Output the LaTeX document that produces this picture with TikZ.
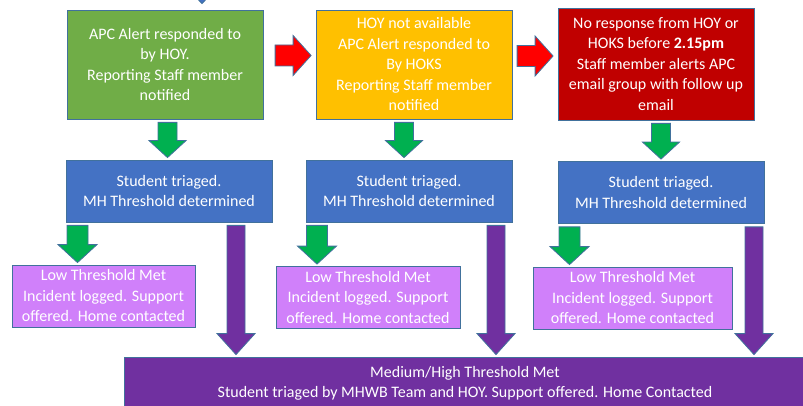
\documentclass[tikz,border=0pt]{standalone}
\usepackage{fontspec}
\setmainfont{Carlito}
\usetikzlibrary{calc}
\definecolor{boxgreen}{HTML}{70AD47}
\definecolor{boxyellow}{HTML}{FFC000}
\definecolor{boxred}{HTML}{C00000}
\definecolor{boxblue}{HTML}{4472C4}
\definecolor{lowpurple}{RGB}{208,128,250}
\definecolor{highpurple}{HTML}{7030A0}
\definecolor{arrowgreen}{HTML}{00B050}
\definecolor{arrowred}{HTML}{FF0000}
\definecolor{edgeblue}{HTML}{41719C}
\tikzset{
	box/.style={draw=edgeblue,line width=.8pt,text=white,align=center,inner sep=0pt},
	blockarrow/.style={draw=edgeblue,line width=.8pt,line join=miter},
}
% block arrow down: colour, x, from, to, half shaft, half head, head length
\newcommand\dnarrow[7]{%
	\draw[blockarrow,fill=#1] let \p1=(#3.south), \p2=(#4.north) in
	(#2pt-#5pt,\y1-3pt)--(#2pt+#5pt,\y1-3pt)--(#2pt+#5pt,\y2+2pt+#7pt)--(#2pt+#6pt,\y2+2pt+#7pt)
	--(#2pt,\y2+2pt)--(#2pt-#6pt,\y2+2pt+#7pt)--(#2pt-#5pt,\y2+2pt+#7pt)--cycle;}
% block arrow right: y, from, to
\newcommand\rtarrow[3]{%
	\draw[blockarrow,fill=arrowred] let \p1=(#2.east), \p2=(#3.west) in
	(\x2-40.5pt,-#1pt+10.5pt)--(\x2-22.5pt,-#1pt+10.5pt)--(\x2-22.5pt,-#1pt+20pt)--(\x2-4.5pt,-#1pt)
	--(\x2-22.5pt,-#1pt-20pt)--(\x2-22.5pt,-#1pt-10.5pt)--(\x2-40.5pt,-#1pt-10.5pt)--cycle;}
\begin{document}
\begin{tikzpicture}[x=1pt,y=-1pt,font=\fontsize{16}{20.5}\selectfont]
	\useasboundingbox (0,0) rectangle (803,406);
	\clip (0,0) rectangle (803,406);
	\foreach \nm/\cx/\cy/\h/\c/\t in {gA/165/64.5/109pt/boxgreen/{APC Alert responded to\\by HOY.\\Reporting Staff member\\notified},
		yB/414/64.5/109pt/boxyellow/{HOY not available\\APC Alert responded to\\By HOKS\\Reporting Staff member\\notified},
		rC/656/64/112pt/boxred/{No response from HOY or\\HOKS before \textbf{2.15pm}\\Staff member alerts APC\\email group with follow up\\email}}
		\path(\cx,\cy)node[box,fill=\c,minimum width=196pt,minimum height=\h](\nm){\t};
	\foreach \nm/\cx/\cy in {bA/169/191,bB/409/191,bC/661/192.5}
		\path(\cx,\cy)node[box,fill=boxblue,minimum width=206pt,minimum height=62pt](\nm){Student triaged.\\MH Threshold determined};
	\foreach \nm/\cx/\cy/\w in {lA/103.5/296/183pt,lB/368/297.5/184pt,lC/632.5/298/199pt}
		\path(\cx,\cy)node[box,fill=lowpurple,minimum width=\w,minimum height=62pt](\nm){Low Threshold Met\\Incident logged. Support\\offered. Home contacted};
	\path(465,383.5)node[box,fill=highpurple,minimum width=682pt,minimum height=53pt](mh){Medium/High Threshold Met\\Student triaged by MHWB Team and HOY. Support offered. Home Contacted};
	% incoming alert, cut off at the top
	\draw[blockarrow,fill=boxblue] let \p2=(gA.north) in (183pt,\y2+26pt)--(202pt,\y2+6pt)--(221pt,\y2+26pt)--cycle;
	\foreach \cx/\src/\dst in {167.5/gA/bA,404/yB/bB,661/rC/bC}\dnarrow{arrowgreen}{\cx}{\src}{\dst}{9.5}{18.5}{17};
	\foreach \cx/\src/\dst in {77.5/bA/lA,317/bB/lB,569.5/bC/lC}\dnarrow{arrowgreen}{\cx}{\src}{\dst}{10.5}{19.5}{18};
	\foreach \cx/\src in {236/bA,496/bB,754/bC}\dnarrow{highpurple}{\cx}{\src}{mh}{9}{19}{21};
	\foreach \cy/\src/\dst in {55.5/gA/yB,56/yB/rC}\rtarrow{\cy}{\src}{\dst};
\end{tikzpicture}
\end{document}
